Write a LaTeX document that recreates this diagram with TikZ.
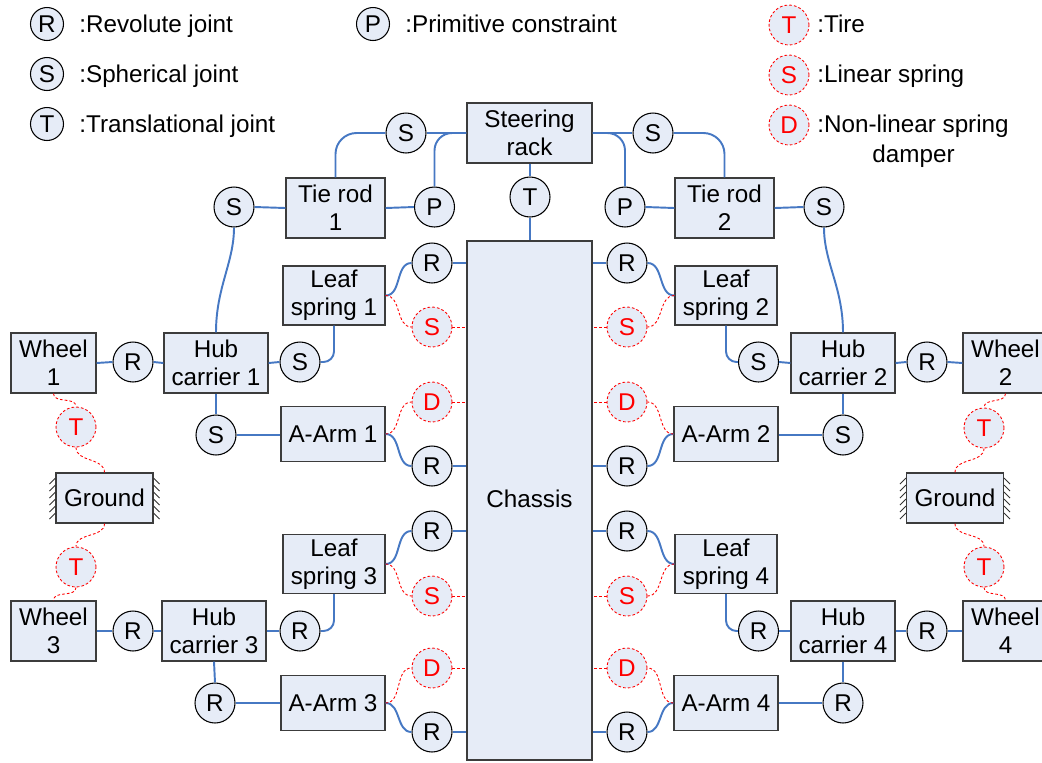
\documentclass[tikz,border=0pt]{standalone}
\usepackage{fontspec}
\setmainfont{Liberation Sans}
\definecolor{boxfill}{RGB}{230,236,247}
\definecolor{linkblue}{RGB}{70,120,195}
\definecolor{edgegray}{RGB}{60,60,60}
\newcommand\dfont{\fontsize{13.8}{15.9}\selectfont}
\begin{document}
\begin{tikzpicture}[x=0.02cm,y=-0.02cm,
  box/.style={draw=edgegray,line width=0.7pt,fill=boxfill,align=center,inner sep=0pt,font=\dfont},
  rackbox/.style={box,minimum width=2.5cm,minimum height=1.2cm},
  tiebox/.style={box,minimum width=1.98cm,minimum height=1.2cm},
  leafbox/.style={box,minimum width=2.04cm,minimum height=1.18cm},
  hubbox/.style={box,minimum width=2.08cm,minimum height=1.2cm},
  armbox/.style={box,minimum width=2.08cm,minimum height=1.1cm},
  wheelbox/.style={box,minimum width=1.7cm,minimum height=1.2cm},
  groundbox/.style={box,minimum width=1.94cm,minimum height=1.0cm},
  joint/.style={circle,draw=black,line width=0.6pt,fill=boxfill,minimum size=0.8cm,inner sep=0pt,font=\dfont},
  ljoint/.style={joint,minimum size=0.66cm},
  elem/.style={circle,draw=red,line width=0.5pt,dash pattern=on 1.5pt off 1.2pt,fill=boxfill,minimum size=0.8cm,inner sep=0pt,font=\dfont,text=red},
  link/.style={draw=linkblue,line width=1.1pt},
  rlink/.style={draw=red,line width=0.5pt,dash pattern=on 1.5pt off 1.2pt},
  lbl/.style={anchor=base west,inner sep=0pt,font=\dfont},
  hatch/.style={draw=black!80,line width=0.5pt}]
\useasboundingbox (0,0) rectangle (1042,762);

% ---------- legend ----------
\node[ljoint] (lgR) at (47,24) {R};
\node[lbl] (lgRt) at (79,32) {:Revolute joint};
\node[ljoint] (lgS) at (47,74) {S};
\node[lbl] (lgSt) at (79,82) {:Spherical joint};
\node[ljoint] (lgT) at (47,124) {T};
\node[lbl] (lgTt) at (79,132) {:Translational joint};
\node[ljoint] (lgP) at (373,24) {P};
\node[lbl] (lgPt) at (405,32) {:Primitive constraint};
\node[elem] (lgTi) at (789,25) {T};
\node[lbl] (lgTit) at (817,32) {:Tire};
\node[elem] (lgLs) at (789,75) {S};
\node[lbl] (lgLst) at (817,82) {:Linear spring};
\node[elem] (lgD) at (789,125) {D};
\node[lbl] (lgDt) at (817,132) {:Non-linear spring};
\node[anchor=base,inner sep=0pt,font=\dfont] (lgDt2) at (913.5,162) {damper};

% ---------- central ----------
\node[rackbox] (rack) at (529.5,133) {Steering\\rack};
\node[box,minimum width=2.5cm,minimum height=10.38cm] (chassis) at (529.5,500.5) {\raisebox{2pt}{Chassis}};
\node[joint] (tT) at (530,197) {T};
\node[joint] (sTL) at (406,133) {S};
\node[joint] (sTR) at (653,133) {S};

% ---------- steering ----------
\node[tiebox] (tr1) at (335.5,208) {Tie rod\\1};
\node[tiebox] (tr2) at (724.5,208) {Tie rod\\2};
\node[joint] (sL) at (234,207) {S};
\node[joint] (pL) at (434.5,207) {P};
\node[joint] (pR) at (625,207) {P};
\node[joint] (sR) at (824,207) {S};

% ---------- front left ----------
\node[leafbox] (ls1) at (334,295.5) {Leaf\\spring 1};
\node[joint] (rL1) at (432,263) {R};
\node[elem] (spL1) at (432,327) {S};
\node[hubbox] (hc1) at (216,363) {Hub\\carrier 1};
\node[wheelbox] (wh1) at (53.5,363) {Wheel\\1};
\node[joint] (rW1) at (133,362) {R};
\node[joint] (sH1) at (300,362) {S};
\node[joint] (sB1) at (216,435) {S};
\node[armbox] (aa1) at (333,434) {A-Arm 1};
\node[elem] (dL1) at (432,402) {D};
\node[joint] (rL2) at (432,466) {R};

% ---------- front right ----------
\node[leafbox] (ls2) at (726,295.5) {Leaf\\spring 2};
\node[joint] (rR1) at (627,263) {R};
\node[elem] (spR1) at (627,327) {S};
\node[hubbox] (hc2) at (843,363) {Hub\\carrier 2};
\node[wheelbox] (wh2) at (1005.5,363) {Wheel\\2};
\node[joint] (rW2) at (927,362) {R};
\node[joint] (sH2) at (758.5,362) {S};
\node[joint] (sB2) at (843,435) {S};
\node[armbox] (aa2) at (726,434) {A-Arm 2};
\node[elem] (dR1) at (627,402) {D};
\node[joint] (rR2) at (627,466) {R};

% ---------- ground / tires ----------
\node[groundbox] (gL) at (104.5,498) {Ground};
\node[groundbox] (gR) at (955,498) {Ground};
\node[elem] (tiL1) at (76,427) {T};
\node[elem] (tiL2) at (76,567) {T};
\node[elem] (tiR1) at (984,428) {T};
\node[elem] (tiR2) at (984,567) {T};

% ---------- rear left ----------
\node[leafbox] (ls3) at (334,564) {Leaf\\spring 3};
\node[joint] (rL3) at (432,531) {R};
\node[elem] (spL3) at (432,596) {S};
\node[hubbox] (hc3) at (214,631) {Hub\\carrier 3};
\node[wheelbox] (wh3) at (53.5,631) {Wheel\\3};
\node[joint] (rW3) at (133,631) {R};
\node[joint] (rH3) at (300,631) {R};
\node[joint] (rB3) at (215,703) {R};
\node[armbox] (aa3) at (333,703) {A-Arm 3};
\node[elem] (dL4) at (432,668) {D};
\node[joint] (rL4) at (432,732) {R};

% ---------- rear right ----------
\node[leafbox] (ls4) at (726,564) {Leaf\\spring 4};
\node[joint] (rR3) at (627,531) {R};
\node[elem] (spR3) at (627,596) {S};
\node[hubbox] (hc4) at (843,631) {Hub\\carrier 4};
\node[wheelbox] (wh4) at (1005.5,631) {Wheel\\4};
\node[joint] (rW4) at (927,631) {R};
\node[joint] (rH4) at (758.5,631) {R};
\node[joint] (rB4) at (843,703) {R};
\node[armbox] (aa4) at (726,703) {A-Arm 4};
\node[elem] (dR4) at (627,668) {D};
\node[joint] (rR4) at (627,732) {R};

% ---------- hatching ----------
\foreach \yy in {478,485,...,513}{
  \draw[hatch] (gL.west |- 0,\yy) -- ++(-6,6);
  \draw[hatch] (gL.east |- 0,\yy) -- ++(6,6);
  \draw[hatch] (gR.west |- 0,\yy) -- ++(-6,6);
  \draw[hatch] (gR.east |- 0,\yy) -- ++(6,6);
}

% ---------- steering connectors ----------
\draw[link] (sTL.east) -- (rack.west);
\draw[link,rounded corners=12pt] (sTL.west) -| (tr1.north);
\draw[link,rounded corners=10pt] (pL.north) |- (rack.west);
\draw[link] (tr1.east) -- (pL.west);
\draw[link] (sL.east) -- (tr1.west);
\draw[link] (sL.south) .. controls +(0,35) and +(0,-45) .. (hc1.north);
\draw[link] (tT.north |- rack.south) -- (tT.north);
\draw[link] (tT.south) -- (tT.south |- chassis.north);
\draw[link] (rack.east) -- (sTR.west);
\draw[link,rounded corners=12pt] (sTR.east) -| (tr2.north);
\draw[link,rounded corners=10pt] (pR.north) |- (rack.east);
\draw[link] (pR.east) -- (tr2.west);
\draw[link] (tr2.east) -- (sR.west);
\draw[link] (sR.south) .. controls +(0,35) and +(0,-45) .. (hc2.north);

% ---------- front left connectors ----------
\draw[link] (ls1.east) to[out=0,in=180] (rL1.west);
\draw[rlink] (ls1.east) to[out=0,in=180] (spL1.west);
\draw[link] (rL1.east) -- (rL1.east -| chassis.west);
\draw[rlink] (spL1.east) -- (spL1.east -| chassis.west);
\draw[link,rounded corners=6pt] (ls1.south) |- (sH1.east);
\draw[link] (hc1.east) -- (sH1.west);
\draw[link] (wh1.east) -- (rW1.west);
\draw[link] (rW1.east) -- (hc1.west);
\draw[link] (hc1.south) -- (sB1.north);
\draw[link] (sB1.east) -- (sB1.east -| aa1.west);
\draw[link] (aa1.east) to[out=0,in=180] (rL2.west);
\draw[rlink] (aa1.east) to[out=0,in=180] (dL1.west);
\draw[link] (rL2.east) -- (rL2.east -| chassis.west);
\draw[rlink] (dL1.east) -- (dL1.east -| chassis.west);

% ---------- front right connectors ----------
\draw[link] (ls2.west) to[out=180,in=0] (rR1.east);
\draw[rlink] (ls2.west) to[out=180,in=0] (spR1.east);
\draw[link] (rR1.west) -- (rR1.west -| chassis.east);
\draw[rlink] (spR1.west) -- (spR1.west -| chassis.east);
\draw[link,rounded corners=6pt] (ls2.south) |- (sH2.west);
\draw[link] (hc2.west) -- (sH2.east);
\draw[link] (wh2.west) -- (rW2.east);
\draw[link] (rW2.west) -- (hc2.east);
\draw[link] (hc2.south) -- (sB2.north);
\draw[link] (sB2.west) -- (sB2.west -| aa2.east);
\draw[link] (aa2.west) to[out=180,in=0] (rR2.east);
\draw[rlink] (aa2.west) to[out=180,in=0] (dR1.east);
\draw[link] (rR2.west) -- (rR2.west -| chassis.east);
\draw[rlink] (dR1.west) -- (dR1.west -| chassis.east);

% ---------- tires ----------
\draw[rlink] (wh1.south) to[out=-90,in=90] (tiL1.north);
\draw[rlink] (tiL1.south) to[out=-90,in=90] (gL.north);
\draw[rlink] (gL.south) to[out=-90,in=90] (tiL2.north);
\draw[rlink] (tiL2.south) to[out=-90,in=90] (wh3.north);
\draw[rlink] (wh2.south) to[out=-90,in=90] (tiR1.north);
\draw[rlink] (tiR1.south) to[out=-90,in=90] (gR.north);
\draw[rlink] (gR.south) to[out=-90,in=90] (tiR2.north);
\draw[rlink] (tiR2.south) to[out=-90,in=90] (wh4.north);

% ---------- rear left connectors ----------
\draw[link] (ls3.east) to[out=0,in=180] (rL3.west);
\draw[rlink] (ls3.east) to[out=0,in=180] (spL3.west);
\draw[link] (rL3.east) -- (rL3.east -| chassis.west);
\draw[rlink] (spL3.east) -- (spL3.east -| chassis.west);
\draw[link,rounded corners=6pt] (ls3.south) |- (rH3.east);
\draw[link] (hc3.east) -- (rH3.west);
\draw[link] (wh3.east) -- (rW3.west);
\draw[link] (rW3.east) -- (hc3.west);
\draw[link] (hc3.south) -- (rB3.north);
\draw[link] (rB3.east) -- (rB3.east -| aa3.west);
\draw[link] (aa3.east) to[out=0,in=180] (rL4.west);
\draw[rlink] (aa3.east) to[out=0,in=180] (dL4.west);
\draw[link] (rL4.east) -- (rL4.east -| chassis.west);
\draw[rlink] (dL4.east) -- (dL4.east -| chassis.west);

% ---------- rear right connectors ----------
\draw[link] (ls4.west) to[out=180,in=0] (rR3.east);
\draw[rlink] (ls4.west) to[out=180,in=0] (spR3.east);
\draw[link] (rR3.west) -- (rR3.west -| chassis.east);
\draw[rlink] (spR3.west) -- (spR3.west -| chassis.east);
\draw[link,rounded corners=6pt] (ls4.south) |- (rH4.west);
\draw[link] (hc4.west) -- (rH4.east);
\draw[link] (wh4.west) -- (rW4.east);
\draw[link] (rW4.west) -- (hc4.east);
\draw[link] (hc4.south) -- (rB4.north);
\draw[link] (rB4.west) -- (rB4.west -| aa4.east);
\draw[link] (aa4.west) to[out=180,in=0] (rR4.east);
\draw[rlink] (aa4.west) to[out=180,in=0] (dR4.east);
\draw[link] (rR4.west) -- (rR4.west -| chassis.east);
\draw[rlink] (dR4.west) -- (dR4.west -| chassis.east);
\end{tikzpicture}
\end{document}
